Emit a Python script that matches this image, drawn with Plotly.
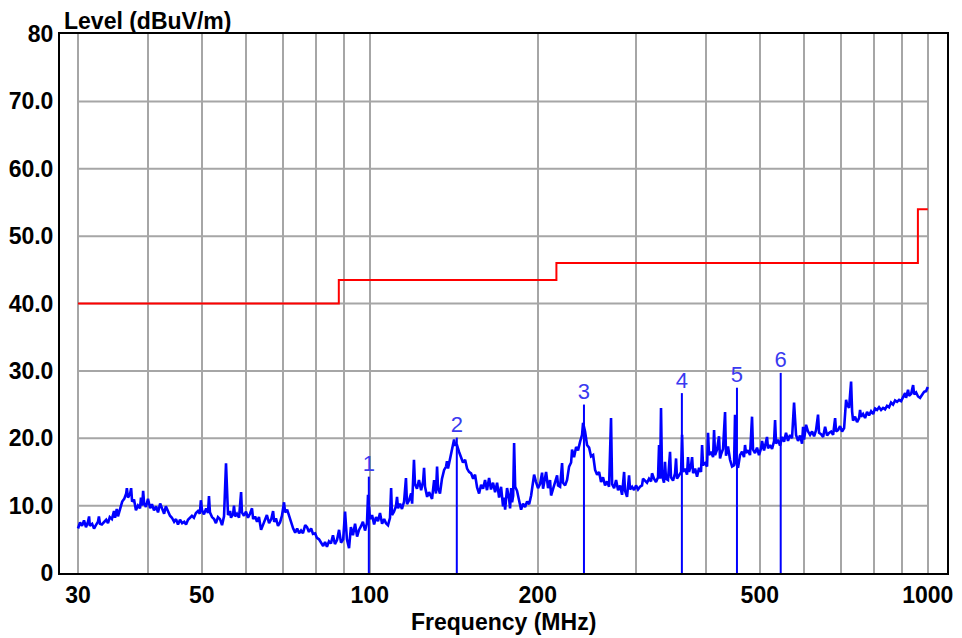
import math
import plotly.graph_objects as go

trace_points = [
    (30.0, 6.6), (30.25, 7.5), (30.5, 7.0), (30.75, 7.8), (31.0, 6.8), (31.26, 7.6), (31.4, 8.4), (31.5, 7.0), (31.8, 7.3), (32.05, 6.6),
    (32.3, 7.1), (32.58, 7.6), (32.7, 8.4), (32.85, 7.3), (33.1, 7.2), (33.4, 7.6), (33.7, 7.9), (33.95, 7.4), (34.2, 8.3), (34.5, 8.0),
    (34.8, 9.2), (34.95, 8.2), (35.2, 9.5), (35.38, 8.4), (35.7, 9.8), (36.0, 10.6), (36.3, 11.0), (36.6, 11.8), (36.7, 12.6), (36.87, 11.2),
    (37.2, 11.8), (37.35, 12.6), (37.5, 10.6), (37.8, 10.9), (38.1, 9.3), (38.42, 10.0), (38.75, 9.6), (38.9, 11.2), (39.1, 10.0), (39.25, 12.2),
    (39.4, 10.4), (39.7, 9.8), (40.04, 11.0), (40.4, 9.6), (40.7, 10.2), (41.05, 9.3), (41.4, 9.9), (41.73, 9.0), (42.1, 10.3), (42.4, 9.6),
    (42.8, 8.8), (43.1, 9.9), (43.49, 9.2), (43.85, 8.5), (44.2, 8.2), (44.6, 7.6), (44.95, 8.0), (45.32, 7.2), (45.7, 7.9), (46.1, 7.4),
    (46.5, 7.6), (46.85, 7.2), (47.23, 7.9), (47.6, 8.2), (48.0, 8.5), (48.4, 8.2), (48.8, 8.9), (49.22, 9.2), (49.6, 8.8), (49.8, 10.8),
    (50.05, 9.3), (50.45, 8.7), (50.9, 9.6), (51.29, 8.9), (51.5, 11.4), (51.7, 9.0), (52.15, 8.3), (52.6, 8.0), (53.0, 7.4), (53.45, 8.3),
    (53.9, 8.0), (54.35, 7.1), (54.8, 8.4), (55.25, 16.3), (55.5, 11.0), (55.71, 8.6), (56.2, 9.2), (56.4, 8.2), (56.9, 8.8), (57.1, 10.0),
    (57.35, 8.4), (57.8, 8.8), (58.3, 8.2), (58.8, 12.0), (59.0, 9.0), (59.5, 8.5), (60.0, 9.1), (60.5, 8.2), (61.0, 8.8), (61.5, 9.6),
    (61.8, 8.0), (62.3, 8.4), (62.8, 7.6), (63.3, 8.3), (63.85, 6.4), (64.4, 7.2), (64.9, 7.9), (65.4, 8.6), (66.0, 7.4), (66.6, 8.0),
    (67.1, 9.2), (67.4, 7.6), (67.9, 8.1), (68.47, 7.0), (69.05, 7.5), (69.6, 8.5), (70.2, 10.5), (70.5, 9.0), (71.1, 9.4), (71.7, 8.4),
    (72.3, 7.4), (72.9, 6.6), (73.5, 6.0), (74.1, 6.6), (74.7, 5.9), (75.3, 6.3), (75.9, 5.9), (76.6, 7.1), (77.2, 6.8), (77.8, 6.1),
    (78.5, 6.6), (79.1, 5.8), (79.8, 5.9), (80.4, 5.2), (81.1, 5.0), (81.8, 4.5), (82.5, 4.0), (83.15, 4.6), (83.8, 3.9), (84.5, 4.7),
    (85.2, 4.4), (85.9, 5.6), (86.6, 4.3), (87.35, 4.9), (88.1, 6.4), (88.8, 4.5), (89.6, 5.0), (90.3, 9.1), (91.0, 5.0), (91.8, 3.7),
    (92.5, 6.8), (93.3, 5.6), (94.1, 7.3), (94.9, 5.4), (95.65, 6.4), (96.4, 6.9), (97.2, 7.6), (98.05, 6.3), (98.85, 7.4), (99.27, 11.6),
    (99.7, 9.0), (100.1, 8.0), (100.95, 8.6), (101.8, 7.2), (102.6, 8.3), (103.46, 7.7), (104.3, 8.9), (105.2, 7.3), (106.1, 8.0), (106.9, 7.4),
    (107.81, 7.1), (108.7, 8.2), (109.2, 12.6), (109.6, 8.6), (110.5, 9.1), (111.4, 9.9), (111.9, 11.3), (112.36, 9.6), (113.3, 10.3), (114.2, 9.5),
    (115.2, 10.6), (116.1, 14.1), (116.6, 10.2), (117.6, 10.8), (118.6, 11.8), (119.1, 10.3), (120.0, 16.8), (120.5, 13.2), (121.5, 12.5), (122.5, 13.8),
    (123.6, 12.3), (124.6, 13.6), (125.1, 15.6), (125.6, 12.8), (126.7, 11.3), (127.7, 12.0), (129.3, 11.0), (130.4, 13.8), (131.4, 11.8), (132.0, 15.8),
    (132.52, 12.6), (133.6, 11.8), (134.7, 14.0), (135.9, 15.3), (137.0, 15.8), (137.5, 16.6), (138.11, 15.5), (139.3, 17.0), (140.4, 17.9), (141.6, 19.8),
    (142.2, 19.0), (143.3, 19.0), (144.5, 18.0), (145.7, 17.3), (146.9, 16.4), (148.2, 16.8), (149.4, 15.5), (150.6, 15.0), (151.9, 14.8), (153.2, 14.0),
    (154.4, 14.6), (155.7, 12.7), (157.0, 11.8), (158.3, 13.1), (159.6, 12.5), (160.9, 13.8), (162.2, 12.3), (163.6, 14.1), (164.9, 12.4), (166.3, 13.4),
    (167.7, 12.0), (169.1, 13.4), (170.5, 11.2), (171.9, 12.8), (173.3, 9.9), (174.0, 11.2), (174.8, 9.4), (176.2, 12.6), (177.7, 11.0), (178.4, 9.6),
    (179.2, 12.6), (179.9, 10.5), (180.7, 11.5), (181.4, 19.3), (182.2, 12.8), (183.6, 12.2), (185.1, 11.0), (186.7, 9.4), (188.2, 10.3), (189.8, 9.8),
    (191.4, 10.6), (193.0, 10.2), (194.6, 11.5), (196.2, 13.8), (197.0, 14.6), (198.6, 13.5), (200.2, 12.6), (201.9, 13.2), (203.6, 14.9), (204.4, 12.5),
    (207.0, 15.0), (208.67, 12.6), (210.4, 13.8), (211.3, 11.5), (213.0, 12.4), (214.8, 13.5), (216.6, 14.5), (217.46, 13.0), (219.3, 12.8), (221.1, 16.3),
    (222.0, 13.4), (223.9, 13.0), (225.7, 13.8), (227.6, 15.8), (229.5, 16.4), (230.4, 18.3), (232.3, 17.2), (234.3, 18.7), (236.17, 18.2), (238.2, 19.5),
    (240.1, 20.5), (241.1, 22.3), (243.1, 21.0), (245.1, 19.0), (247.2, 18.6), (249.2, 17.3), (251.3, 17.5), (253.4, 15.3), (255.5, 14.6), (257.6, 15.0),
    (259.7, 13.5), (261.8, 14.2), (264.0, 13.0), (266.2, 13.6), (268.4, 12.8), (270.6, 23.0), (271.8, 13.2), (274.1, 12.6), (276.3, 13.8), (278.57, 12.3),
    (280.9, 13.0), (283.2, 11.6), (285.6, 15.0), (286.7, 12.2), (289.1, 11.3), (291.5, 14.5), (292.7, 12.4), (295.2, 12.8), (297.6, 12.3), (300.0, 13.0),
    (302.5, 12.4), (305.0, 12.8), (307.5, 13.0), (308.8, 14.0), (311.4, 13.6), (313.9, 13.4), (316.5, 14.0), (319.2, 13.6), (320.5, 14.8), (323.1, 14.0),
    (325.8, 13.5), (328.5, 14.2), (329.9, 19.0), (331.3, 14.0), (332.6, 24.5), (334.0, 14.5), (336.7, 13.4), (338.1, 16.5), (339.5, 14.0), (342.3, 13.8),
    (345.2, 18.0), (346.6, 14.2), (349.5, 13.7), (352.4, 14.8), (353.9, 17.0), (355.3, 14.0), (358.3, 14.5), (361.3, 15.0), (362.8, 20.5), (364.3, 15.0),
    (367.3, 15.5), (370.3, 14.6), (371.8, 17.2), (373.4, 15.0), (376.5, 16.0), (378.1, 17.2), (379.7, 14.8), (382.8, 15.5), (385.9, 14.3), (389.1, 15.6),
    (392.3, 15.0), (394.0, 19.0), (395.6, 16.0), (398.9, 16.3), (402.2, 15.8), (403.8, 20.8), (405.5, 17.5), (408.9, 18.0), (412.3, 17.2), (414.0, 21.2),
    (415.7, 17.5), (419.1, 18.3), (422.5, 20.3), (424.3, 17.0), (426.1, 17.6), (429.6, 18.4), (433.2, 23.9), (434.9, 17.4), (438.5, 18.8), (442.2, 16.8),
    (445.9, 15.8), (449.6, 16.0), (451.4, 23.5), (453.3, 16.5), (457.0, 15.6), (460.8, 17.5), (464.6, 18.0), (468.5, 17.2), (470.4, 19.0), (472.3, 17.8),
    (476.2, 18.2), (480.2, 17.5), (484.2, 23.2), (486.2, 18.3), (490.2, 17.8), (494.3, 18.6), (498.3, 17.5), (502.5, 18.5), (504.6, 19.6), (508.8, 18.2),
    (513.0, 19.5), (515.1, 20.2), (517.2, 18.5), (521.5, 19.0), (525.9, 18.4), (530.3, 19.6), (532.5, 22.7), (534.7, 19.2), (539.0, 19.8), (543.5, 18.9),
    (548.0, 20.2), (552.6, 19.5), (557.1, 20.8), (561.7, 19.6), (566.4, 20.5), (571.1, 20.0), (575.9, 25.3), (580.6, 20.5), (585.4, 19.6), (590.3, 20.4),
    (595.2, 19.2), (597.7, 21.7), (600.2, 19.8), (605.1, 22.0), (610.1, 21.0), (615.2, 20.5), (620.3, 21.0), (625.5, 20.3), (630.6, 21.2), (635.8, 23.5),
    (638.5, 20.8), (643.8, 20.6), (649.2, 20.2), (654.6, 21.7), (659.9, 20.4), (665.4, 20.8), (671.0, 21.0), (676.6, 20.5), (682.2, 23.0), (685.0, 21.0),
    (690.5, 21.2), (696.3, 21.8), (702.1, 21.0), (708.0, 21.5), (713.8, 25.7), (716.7, 25.0), (722.6, 24.5), (728.7, 28.4), (731.7, 24.0), (734.7, 22.6),
    (740.8, 23.2), (746.9, 22.4), (753.1, 23.0), (756.2, 24.2), (759.4, 23.2), (765.7, 23.6), (772.0, 23.0), (778.3, 23.9), (784.8, 23.4), (791.4, 24.0),
    (798.0, 23.6), (804.5, 24.4), (811.1, 24.2), (817.8, 24.6), (824.7, 24.2), (831.6, 24.5), (838.4, 24.3), (845.3, 24.8), (852.3, 24.6), (859.4, 25.3),
    (866.6, 25.0), (873.8, 25.6), (880.9, 25.4), (888.2, 25.7), (895.7, 25.5), (903.3, 26.2), (910.6, 26.7), (914.2, 26.0), (921.8, 27.2), (925.7, 26.3),
    (933.5, 26.6), (941.3, 27.9), (945.2, 26.5), (952.9, 26.8), (960.6, 26.2), (968.7, 26.0), (976.8, 26.5), (984.9, 26.9), (993.0, 27.0), (1000.0, 27.6),
]
trace_freq = [p[0] for p in trace_points]
trace_level = [p[1] for p in trace_points]

# ---- limit line (stepped) ----
limit_freq = [30, 88, 216, 960, 1000]
limit_level = [40, 43.5, 46, 54, 54]

# ---- markers ----
marker_freq = [99.6, 143.2, 242.0, 362.5, 455.0, 545.0]
marker_level = [14.3, 20.1, 25.0, 26.7, 27.5, 29.7]
marker_label = ["1", "2", "3", "4", "5", "6"]

# ---- axes ----
x_grid = [30, 40, 50, 60, 70, 80, 90, 100, 200, 300, 400, 500, 600, 700, 800, 900, 1000]
x_labeled = {30: "30", 50: "50", 100: "100", 200: "200", 500: "500", 1000: "1000"}
x_ticktext = [x_labeled.get(v, "") for v in x_grid]
y_grid = [10, 20, 30, 40, 50, 60, 70]
y_tickvals = [0, 10, 20, 30, 40, 50, 60, 70, 80]
y_ticktext = ["0", "10.0", "20.0", "30.0", "40.0", "50.0", "60.0", "70.0", "80"]

FONT = "Liberation Sans, Arial, sans-serif"
GRID = "#a6a6a6"
FS = 23

fig = go.Figure()

# horizontal grid lines (span 30..1000 only)
gx, gy = [], []
for v in y_grid:
    gx += [x_grid[0], x_grid[-1], None]
    gy += [v, v, None]
fig.add_trace(go.Scatter(x=gx, y=gy, mode="lines", line=dict(color=GRID, width=2),
                         hoverinfo="skip", showlegend=False))

# limit line
fig.add_trace(go.Scatter(x=limit_freq, y=limit_level, mode="lines",
                         line=dict(color="#ff0000", width=2, shape="hv"), showlegend=False))

# measured trace
fig.add_trace(go.Scatter(x=trace_freq, y=trace_level, mode="lines",
                         line=dict(color="#0000ff", width=2.6), showlegend=False))

# marker vertical lines
mx, my = [], []
for f, l in zip(marker_freq, marker_level):
    mx += [f, f, None]
    my += [0, l, None]
fig.add_trace(go.Scatter(x=mx, y=my, mode="lines", line=dict(color="#0000ff", width=2),
                         showlegend=False))

# marker labels
fig.add_trace(go.Scatter(x=marker_freq, y=marker_level, mode="text", text=marker_label,
                         textposition="top center",
                         textfont=dict(family=FONT, size=22, color="#3a3af0"),
                         showlegend=False))

# page body has an 8 px margin; size the figure so the plot frame lands where the reference has it
fig.update_layout(
    width=954, height=630,
    margin=dict(l=52, r=15, t=26, b=65),
    paper_bgcolor="white", plot_bgcolor="white",
    xaxis=dict(type="log", range=[math.log10(27.85), math.log10(1082.5)],
               tickvals=x_grid, ticktext=x_ticktext, automargin=False,
               showgrid=True, gridcolor=GRID, gridwidth=2, zeroline=False,
               showline=True, linecolor="black", linewidth=2, mirror=True,
               ticks="",
               tickfont=dict(family=FONT, size=FS, color="black", weight="bold")),
    yaxis=dict(range=[0, 80], tickvals=y_tickvals, ticktext=y_ticktext, automargin=False,
               showgrid=False, zeroline=False,
               showline=True, linecolor="black", linewidth=2, mirror=True,
               ticks="", tickfont=dict(family=FONT, size=FS, color="black", weight="bold")),
    annotations=[
        dict(text="Level (dBuV/m)", xref="paper", yref="paper", x=0.002, y=1.0245,
             xanchor="left", yanchor="middle", showarrow=False,
             font=dict(family=FONT, size=FS, color="black", weight="bold")),
        dict(text="Frequency (MHz)", xref="paper", yref="paper", x=0.5, y=-0.0909,
             xanchor="center", yanchor="middle", showarrow=False,
             font=dict(family=FONT, size=FS, color="black", weight="bold")),
    ],
)

fig.write_html("out.html")
